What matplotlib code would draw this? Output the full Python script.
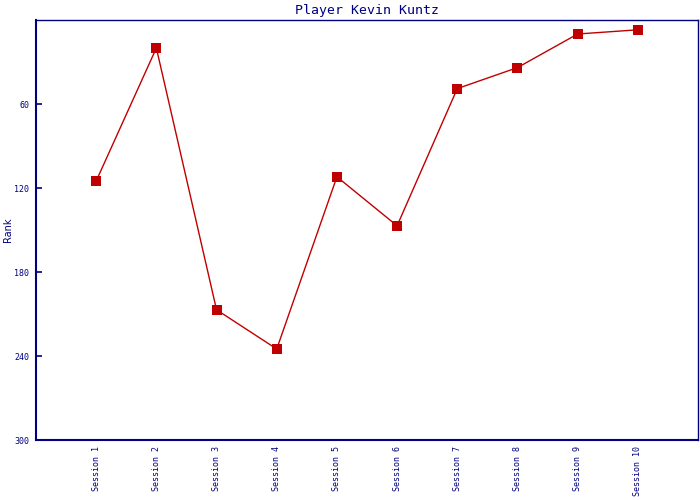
import matplotlib
matplotlib.use('Agg')
import matplotlib.pyplot as plt

sessions = ['Session 1', 'Session 2', 'Session 3', 'Session 4', 'Session 5',
            'Session 6', 'Session 7', 'Session 8', 'Session 9', 'Session 10']
rank = [115, 20, 207, 235, 112, 147, 49, 34, 10, 7]

navy = '#000080'
red = '#C00000'

fig = plt.figure(figsize=(7, 5), dpi=100)
ax = fig.add_axes([36/700, 60/500, 662/700, 420/500])

x = list(range(1, len(sessions) + 1))
ax.plot(x, rank, color=red, lw=1.0, marker='s', markersize=7, markeredgewidth=0)

ax.set_xlim(0, 11)
ax.set_ylim(300, 0)
ax.set_yticks([60, 120, 180, 240, 300])
ax.set_xticks(x)
ax.set_xticklabels(sessions, rotation=90, family='DejaVu Sans Mono', fontsize=6, color=navy)
ax.tick_params(axis='x', length=0, pad=4)
ax.tick_params(axis='y', colors=navy, labelsize=6, length=4, width=1.2, direction='in', pad=5)
for lbl in ax.get_yticklabels():
    lbl.set_family('DejaVu Sans Mono')
for s in ax.spines.values():
    s.set_color(navy)
    s.set_linewidth(1.0)
ax.spines['left'].set_linewidth(1.5)
ax.spines['bottom'].set_linewidth(1.5)

ax.set_ylabel('Rank', color=navy, fontsize=7)
ax.yaxis.set_label_coords(-0.034, 0.5)
ax.set_title('Player Kevin Kuntz', color=navy, family='DejaVu Sans Mono', fontsize=9.5, pad=4)

fig.savefig('out.png', dpi=100)
